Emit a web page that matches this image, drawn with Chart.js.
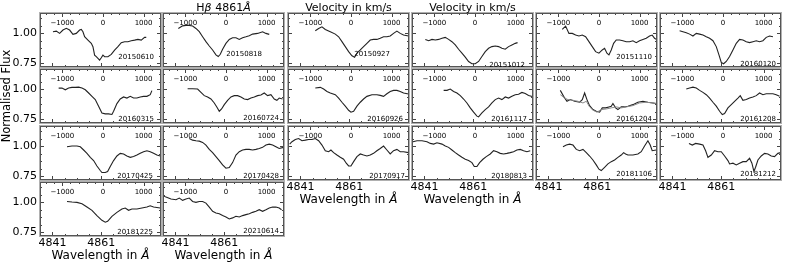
<!DOCTYPE html>
<html>
<head>
<meta charset="utf-8">
<script src="https://cdn.jsdelivr.net/npm/chart.js@4.4.1/dist/chart.umd.min.js"></script>
<style>
  body { margin: 0; background: #fff; }
  #fig { position: relative; width: 789px; height: 263px; overflow: hidden; background: #fff; }
  #fig canvas { position: absolute; }
</style>
</head>
<body>
<div id="fig"></div>
<script>
// observation dates, one panel each (row by row)
const dates = ['20150610','20150818','20150927','20151012','20151110','20160120',
               '20160315','20160724','20160926','20161117','20161204','20161208',
               '20170425','20170428','20170917','20180813','20181106','20181212',
               '20181225','20210614'];

// velocity (km/s) of each sample, per panel
const velocity = [
  [-1230,-1148,-1066,-984,-902,-820,-738,-656,-574,-533,-492,-451,-369,-287,-246,-205,-164,-123,-82,-41,0,41,123,205,287,369,451,533,615,697,779,861,943,1025,1066],
  [-1172,-1066,-943,-820,-738,-656,-574,-492,-410,-328,-246,-189,-139,-82,0,82,164,246,328,410,492,574,656,779,902,984,1066],
  [-877,-795,-713,-631,-508,-385,-303,-221,-139,-57,25,90,148,230,311,393,475,557,639,721,803,885,967,1049,1131,1213,1295,1418],
  [-1221,-1139,-1057,-975,-893,-811,-730,-648,-566,-484,-402,-320,-238,-156,-74,8,90,172,254,336,418,500,582,664,746,828,910,992,1049],
  [-902,-820,-738,-656,-574,-492,-410,-328,-246,-164,-82,0,82,139,197,246,303,361,426,508,590,672,754,836,918,1000,1082,1164,1246,1311,1369,1410],
  [-1066,-984,-902,-820,-738,-656,-574,-492,-410,-328,-246,-164,-98,-41,16,82,164,246,328,410,492,574,656,738,820,902,984,1066,1148,1230],
  [-1090,-1008,-926,-844,-762,-680,-598,-516,-434,-352,-270,-189,-107,-25,57,139,221,262,344,426,508,590,672,754,836,918,1000,1082,1164,1205],
  [-943,-820,-697,-615,-533,-451,-369,-287,-221,-164,-107,-41,41,123,205,287,369,451,533,615,697,779,861,943,1025,1107,1189,1254,1311,1393],
  [-877,-754,-672,-590,-508,-385,-303,-221,-139,-57,0,66,148,230,311,393,516,639,721,803,885,967,1049,1131,1213,1295,1418],
  [-770,-689,-607,-525,-443,-361,-279,-197,-115,-33,49,90,172,254,336,418,500,582,664,746,828,910,992,1074,1156,1238,1320,1410],
  [-951,-869,-787,-705,-598,-475,-410,-352,-295,-230,-148,-66,16,82,164,246,303,344,410,467,549,631,713,836,959,1082,1205,1328,1410],
  [-902,-820,-738,-656,-574,-492,-410,-328,-246,-164,-82,-16,41,123,205,287,369,426,492,574,656,738,820,902,984,1066,1148,1230,1311,1393],
  [-885,-762,-639,-557,-475,-393,-311,-230,-148,-66,-25,57,115,180,262,344,426,508,590,672,754,836,918,1000,1082,1164,1246,1328,1410],
  [-902,-820,-738,-656,-574,-492,-410,-328,-246,-164,-82,0,82,164,246,328,410,492,574,656,738,820,902,984,1066,1148,1230,1311,1418],
  [-1508,-1451,-1369,-1287,-1205,-1123,-1041,-959,-877,-795,-713,-631,-549,-492,-426,-344,-262,-180,-115,-57,0,66,148,230,311,393,475,557,639,721,803,885,967,1049,1131,1213,1295,1418],
  [-1525,-1426,-1303,-1180,-1098,-1016,-934,-811,-730,-648,-566,-484,-402,-320,-238,-156,-74,-16,49,115,197,279,377,459,541,623,705,787,869,951,1033,1115,1197,1279,1361],
  [-885,-803,-721,-639,-557,-475,-393,-311,-230,-148,-66,0,57,139,221,303,385,467,549,607,656,713,836,959,1041,1123,1205,1262,1311,1410],
  [-836,-754,-672,-574,-492,-426,-369,-287,-205,-123,-41,41,123,164,246,328,410,492,574,656,713,762,803,861,943,1025,1107,1189,1270,1352,1425],
  [-885,-762,-639,-516,-393,-270,-148,-25,57,115,221,344,467,549,631,713,836,959,1082,1164,1246,1410],
  [-1540,-1475,-1352,-1230,-1148,-1066,-984,-902,-820,-738,-656,-574,-492,-410,-328,-246,-164,-82,0,82,164,246,328,410,492,574,656,738,820,902,984,1066,1148,1230,1311,1369]
];

// normalised flux, per panel
const flux = [
  [1.014,1.019,1.000,1.028,1.042,1.028,0.992,1.000,1.028,1.033,1.014,0.972,0.944,0.917,0.889,0.819,0.806,0.792,0.778,0.797,0.819,0.806,0.806,0.825,0.861,0.889,0.922,0.931,0.931,0.939,0.944,0.950,0.944,0.967,0.967],
  [1.041,1.063,1.069,1.061,1.041,1.014,0.972,0.931,0.895,0.862,0.821,0.807,0.826,0.868,0.917,0.950,0.964,0.964,0.950,0.964,0.972,0.981,0.994,1.000,1.014,1.000,0.992],
  [1.022,1.041,1.055,1.033,1.014,0.994,0.972,0.931,0.890,0.848,0.813,0.802,0.835,0.862,0.890,0.917,0.945,0.950,0.950,0.959,0.972,0.972,0.978,1.000,1.019,1.000,0.986,0.978],
  [0.950,0.939,0.950,0.945,0.950,0.959,0.967,0.950,0.931,0.904,0.868,0.835,0.802,0.766,0.747,0.747,0.766,0.807,0.848,0.876,0.890,0.895,0.890,0.876,0.868,0.890,0.904,0.917,0.923],
  [1.033,1.061,1.000,1.000,0.986,0.978,0.986,0.972,0.931,0.890,0.848,0.835,0.862,0.876,0.835,0.821,0.862,0.917,0.945,0.945,0.939,0.931,0.931,0.939,0.923,0.939,0.950,0.959,0.978,0.986,0.959,0.950],
  [1.022,1.014,1.006,0.994,0.978,1.000,0.994,0.986,0.972,0.959,0.939,0.890,0.821,0.758,0.747,0.766,0.807,0.862,0.917,0.950,0.945,0.931,0.923,0.931,0.939,0.931,0.939,0.967,0.978,0.972],
  [1.011,1.011,0.997,1.011,1.017,1.017,1.019,1.011,0.997,0.970,0.942,0.915,0.860,0.804,0.796,0.796,0.791,0.818,0.882,0.920,0.937,0.928,0.942,0.928,0.928,0.937,0.942,0.942,0.956,0.990],
  [1.006,1.006,1.003,0.975,0.948,0.937,0.920,0.887,0.851,0.818,0.837,0.873,0.909,0.937,0.948,0.948,0.937,0.920,0.915,0.928,0.937,0.948,0.953,0.970,0.948,0.956,0.920,0.909,0.928,0.920],
  [1.011,1.017,1.003,0.983,0.970,0.956,0.928,0.893,0.860,0.826,0.810,0.818,0.860,0.893,0.920,0.942,0.956,0.956,0.950,0.942,0.964,0.983,0.992,0.992,0.983,0.970,0.961],
  [0.992,0.992,1.003,0.983,0.970,0.948,0.920,0.887,0.846,0.810,0.777,0.771,0.804,0.832,0.854,0.887,0.915,0.928,0.915,0.937,0.928,0.942,0.956,0.960,0.975,0.965,0.950,0.940],
  [0.992,0.942,0.901,0.915,0.901,0.893,0.915,0.970,0.915,0.865,0.832,0.818,0.810,0.846,0.846,0.854,0.860,0.882,0.846,0.832,0.854,0.854,0.860,0.873,0.893,0.901,0.893,0.887,0.882],
  [1.003,1.011,1.019,1.011,0.992,0.975,0.956,0.928,0.893,0.860,0.818,0.791,0.799,0.846,0.873,0.901,0.928,0.948,0.909,0.915,0.928,0.937,0.948,0.970,0.956,0.964,0.964,0.964,0.956,0.942],
  [0.997,1.003,1.003,0.997,0.970,0.942,0.909,0.882,0.837,0.799,0.782,0.782,0.791,0.832,0.882,0.920,0.942,0.937,0.920,0.909,0.915,0.928,0.942,0.956,0.964,0.956,0.942,0.928,0.920],
  [1.066,1.052,1.047,1.044,1.033,1.011,0.975,0.948,0.915,0.882,0.846,0.818,0.824,0.865,0.928,0.956,0.970,0.975,0.975,0.970,0.975,0.983,0.992,1.011,1.019,1.011,0.997,0.983,0.992],
  [1.019,1.039,1.058,1.066,1.047,1.052,1.058,1.058,1.066,1.047,1.011,0.964,0.956,0.970,0.948,0.928,0.909,0.893,0.860,0.837,0.837,0.873,0.915,0.937,0.928,0.920,0.928,0.942,0.964,0.983,1.003,0.970,0.937,0.964,0.975,0.956,0.956,0.948],
  [1.039,1.047,1.047,1.039,1.025,1.019,1.030,1.019,1.003,0.992,0.970,0.948,0.928,0.909,0.893,0.882,0.865,0.832,0.832,0.865,0.893,0.915,0.937,0.964,0.956,0.942,0.937,0.942,0.948,0.956,0.970,0.975,0.964,0.956,0.964],
  [0.997,1.011,1.019,1.011,0.975,0.964,0.975,0.948,0.920,0.887,0.846,0.810,0.799,0.826,0.854,0.873,0.887,0.909,0.928,0.948,0.937,0.928,0.928,0.937,0.956,1.003,1.047,1.011,0.964,0.970],
  [1.025,1.011,1.025,1.019,1.011,0.964,0.909,0.928,0.964,0.956,0.956,0.920,0.882,0.854,0.860,0.846,0.860,0.873,0.873,0.901,0.860,0.791,0.826,0.887,0.920,0.942,0.937,0.920,0.915,0.942,0.948],
  [1.008,1.003,1.000,0.989,0.961,0.934,0.890,0.851,0.835,0.843,0.884,0.917,0.945,0.953,0.934,0.945,0.945,0.953,0.961,0.972,0.961,0.953],
  [1.055,1.044,1.028,1.022,1.036,1.017,1.028,1.036,1.008,1.000,1.008,1.008,0.994,0.961,0.926,0.912,0.906,0.890,0.879,0.862,0.871,0.884,0.879,0.890,0.898,0.906,0.917,0.926,0.939,0.926,0.939,0.953,0.961,0.961,0.953,0.939]
];

// second (grey) spectrum of 20161204
const velocity20161204b = [-951,-844,-762,-639,-516,-393,-311,-230,-148,-49,57,180,303,426,549,672,836,1000,1164,1328,1410];
const flux20161204b = [0.956,0.928,0.915,0.909,0.901,0.887,0.901,0.854,0.827,0.810,0.832,0.837,0.846,0.854,0.846,0.854,0.865,0.887,0.893,0.887,0.882];

// tick values and labels
const velTicks = [-1000, 0, 1000];
const velTickLabels = ['\u22121000', '0', '1000'];
const waveTicks = [4841, 4861];
const waveTickLabels = ['4841', '4861'];
const fluxTicks = [0.75, 1.00];
const fluxTickLabels = ['0.75', '1.00'];

// panel titles (index -> text parts [text, italic])
const titles = {
  1: [['H', false], ['\u03b2', true], [' 4861', false], ['\u00c5', true]],
  2: [['Velocity in km/s', false]],
  3: [['Velocity in km/s', false]]
};

// ---- layout ----
const colLeft = [40, 163, 288, 412, 536, 660];
const rowTop = [13, 69, 126, 182];
const panelW = 121, panelH = 54;
const pad = { left: 40, right: 4, top: 26, bottom: 27 };
// date label offsets: [from right edge, baseline above bottom edge]
const dateOffsets = [
  [7, 8.5], [22, 11.5], [19, 11.5], [8, 0.5], [5, 8.5], [5, 1],
  [7, 2], [5, 3], [6, 2], [6, 2], [5, 2], [5, 2],
  [8, 2.5], [5, 2.5], [4, 2.5], [6, 2.5], [5, 4.5], [5, 4.5],
  [8, 2.5], [5, 3.5]
];
const FONT = '"DejaVu Sans", sans-serif';

function drawParts(ctx, parts, cx, y, size) {
  let total = 0;
  parts.forEach(p => { ctx.font = (p[1] ? 'italic ' : '') + size + 'px ' + FONT; total += ctx.measureText(p[0]).width; });
  let x = cx - total / 2;
  ctx.textAlign = 'left';
  parts.forEach(p => {
    ctx.font = (p[1] ? 'italic ' : '') + size + 'px ' + FONT;
    ctx.fillText(p[0], x, y);
    x += ctx.measureText(p[0]).width;
  });
}

const decor = {
  id: 'decor',
  afterDraw(chart, args, o) {
    const { ctx, chartArea: a, scales } = chart;
    const sx = scales.x, sw = scales.xw, sy = scales.y;
    ctx.save();
    // ticks, pointing inwards
    ctx.strokeStyle = '#444';
    ctx.lineWidth = 1;
    ctx.beginPath();
    for (let v = -1400; v <= 1400; v += 200) {
      const len = velTicks.includes(v) ? 4 : 2;
      const px = Math.round(sx.getPixelForValue(v)) + 0.5;
      ctx.moveTo(px, a.top); ctx.lineTo(px, a.top + len);
    }
    for (let w = 4836; w <= 4885; w += 5) {
      const len = waveTicks.includes(w) ? 4 : 2;
      const px = Math.round(sw.getPixelForValue(w)) + 0.5;
      ctx.moveTo(px, a.bottom); ctx.lineTo(px, a.bottom - len);
    }
    for (let k = 0; k < 8; k++) {
      const f = 0.75 + k * 0.0625;
      if (f > 1.17) break;
      const len = (k % 4 === 0) ? 4 : 2;
      const py = Math.round(sy.getPixelForValue(f)) + 0.5;
      ctx.moveTo(a.left, py); ctx.lineTo(a.left + len, py);
      ctx.moveTo(a.right, py); ctx.lineTo(a.right - len, py);
    }
    ctx.stroke();
    // frame
    ctx.strokeStyle = '#b0b0b0';
    ctx.strokeRect(a.left - 0.5, a.top - 0.5, a.right - a.left + 1, a.bottom - a.top + 1);
    ctx.strokeStyle = '#555';
    ctx.strokeRect(a.left + 0.5, a.top + 0.5, a.right - a.left - 1, a.bottom - a.top - 1);

    ctx.fillStyle = '#000';
    // velocity labels inside top
    ctx.font = '7px ' + FONT;
    ctx.textAlign = 'center';
    ctx.textBaseline = 'alphabetic';
    velTicks.forEach((v, i) => ctx.fillText(velTickLabels[i], sx.getPixelForValue(v), a.top + 11.5));
    // date
    ctx.textAlign = 'right';
    ctx.fillText(o.date, a.right - o.dateOff[0], a.bottom - o.dateOff[1]);
    // flux tick labels on the first column
    if (o.col === 0) {
      ctx.font = '11px ' + FONT;
      ctx.textAlign = 'right';
      ctx.textBaseline = 'middle';
      fluxTicks.forEach((f, i) => ctx.fillText(fluxTickLabels[i], a.left - 3, sy.getPixelForValue(f)));
    }
    if (o.index === 6) {
      ctx.save();
      ctx.translate(7, (a.top + a.bottom) / 2);
      ctx.rotate(-Math.PI / 2);
      ctx.font = '11.5px ' + FONT;
      ctx.textAlign = 'center';
      ctx.textBaseline = 'middle';
      ctx.fillText('Normalised Flux', 0, 0);
      ctx.restore();
    }
    ctx.textBaseline = 'alphabetic';
    if (titles[o.index]) drawParts(ctx, titles[o.index], (a.left + a.right) / 2, a.top - 2.5, 11);
    if (o.bottom) {
      ctx.font = '11px ' + FONT;
      ctx.textAlign = 'center';
      ctx.textBaseline = 'top';
      waveTicks.forEach((w, i) => ctx.fillText(waveTickLabels[i], sw.getPixelForValue(w), a.bottom + 2));
      if (o.col <= 3) {
        ctx.textBaseline = 'alphabetic';
        drawParts(ctx, [['Wavelength in ', false], ['\u00c5', true]], (a.left + a.right) / 2, a.bottom + 23, 12);
      }
    }
    ctx.restore();
  }
};

const fig = document.getElementById('fig');
dates.forEach((date, i) => {
  const row = Math.floor(i / 6), col = i % 6;
  const cv = document.createElement('canvas');
  const w = panelW + pad.left + pad.right, h = panelH + pad.top + pad.bottom;
  cv.width = w; cv.height = h;
  cv.style.left = (colLeft[col] - pad.left) + 'px';
  cv.style.top = (rowTop[row] - pad.top) + 'px';
  cv.style.width = w + 'px'; cv.style.height = h + 'px';
  fig.appendChild(cv);

  const datasets = [];
  if (date === '20161204') {
    datasets.push({
      data: velocity20161204b.map((v, k) => ({ x: v, y: flux20161204b[k] })),
      borderColor: '#8a8a8a', borderWidth: 1, pointRadius: 0, tension: 0
    });
  }
  datasets.push({
    data: velocity[i].map((v, k) => ({ x: v, y: flux[i][k] })),
    borderColor: '#222', borderWidth: 1.1, pointRadius: 0, tension: 0
  });

  new Chart(cv, {
    type: 'line',
    data: { datasets: datasets },
    options: {
      responsive: false,
      animation: false,
      events: [],
      layout: { padding: pad },
      scales: {
        x: { type: 'linear', min: -1549, max: 1429, display: false },
        xw: { type: 'linear', axis: 'x', position: 'bottom', min: 4835.9, max: 4885.5, display: false },
        y: { type: 'linear', min: 0.72, max: 1.17, display: false }
      },
      plugins: {
        legend: { display: false },
        tooltip: { enabled: false },
        decor: {
          index: i, row: row, col: col, date: date, dateOff: dateOffsets[i],
          bottom: row === 3 || (row === 2 && col >= 2)
        }
      }
    },
    plugins: [decor]
  });
});
</script>
</body>
</html>
